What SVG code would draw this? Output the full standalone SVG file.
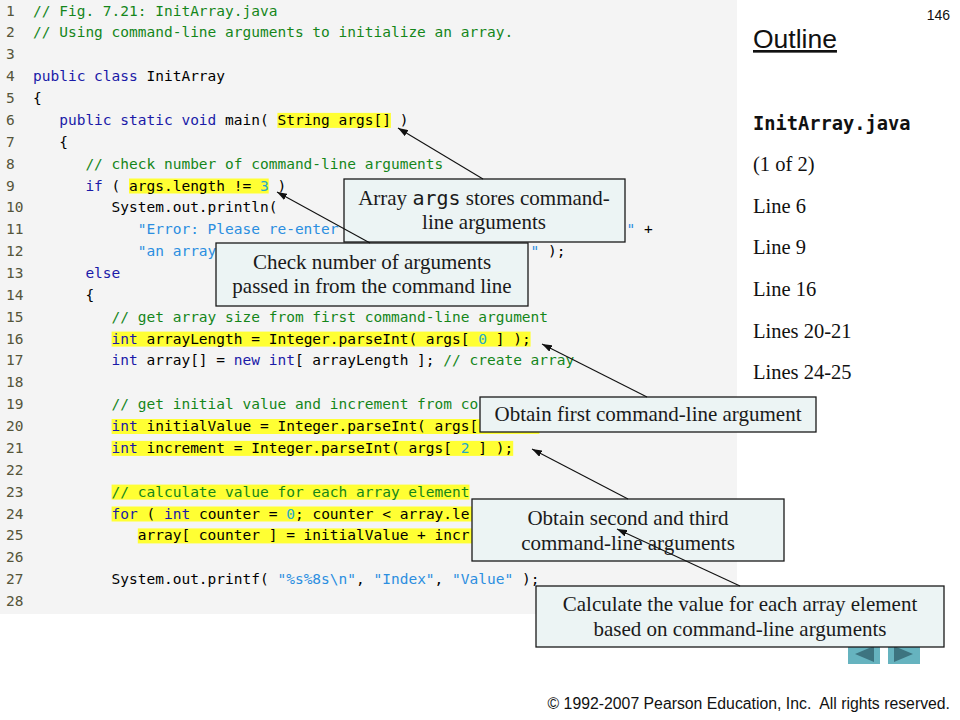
<svg xmlns="http://www.w3.org/2000/svg" width="960" height="720" viewBox="0 0 960 720">
<defs>
<style>
.code{font-family:"DejaVu Sans Mono","Liberation Mono",monospace;font-size:14.5px;fill:#000;}
.ln{font-family:"DejaVu Sans Mono","Liberation Mono",monospace;font-size:14.5px;fill:#55553a;}
.cm{fill:#14861a;}
.kw{fill:#1a1aa8;}
.st{fill:#2b8ee0;}
.nm{fill:#26a9c8;}
.hl{fill:#ffff33;}
.box{fill:#ecf4f4;stroke:#1a1a1a;stroke-width:1.3;}
.ct{font-family:"Liberation Serif","Times New Roman",serif;font-size:21px;fill:#1a1a1a;text-anchor:middle;}
.ctm{font-family:"DejaVu Sans Mono","Liberation Mono",monospace;font-size:20px;}
.ot{font-family:"Liberation Serif","Times New Roman",serif;font-size:20.5px;fill:#111;}
.sans{font-family:"Liberation Sans",Arial,sans-serif;fill:#111;}
.conn{stroke:#111;stroke-width:1.1;fill:none;marker-end:url(#ah);}
</style>
<marker id="ah" viewBox="0 0 10 7" refX="10" refY="3.5" markerWidth="10" markerHeight="7" markerUnits="userSpaceOnUse" orient="auto">
<path d="M0,0 L10,3.5 L0,7 z" fill="#111"/>
</marker>
</defs>
<rect x="0" y="0" width="960" height="720" fill="#ffffff"/>
<g id="code-listing">
<rect x="0" y="0" width="737" height="614" fill="#f4f4f4"/>
<g id="highlights">
<rect class="hl" x="277.4" y="112.9" width="113.5" height="15"/>
<rect class="hl" x="129" y="178.5" width="139.7" height="15"/>
<rect class="hl" x="111.6" y="331.6" width="419" height="15"/>
<rect class="hl" x="111.6" y="419" width="427.8" height="15"/>
<rect class="hl" x="111.6" y="440.9" width="401.6" height="15"/>
<rect class="hl" x="111.6" y="484.6" width="357.9" height="15"/>
<rect class="hl" x="111.6" y="506.5" width="366" height="15"/>
<rect class="hl" x="137.8" y="528.4" width="337" height="15"/>
</g>
<g id="line-numbers" class="ln">
<text x="6" y="15.5">1</text>
<text x="6" y="37.4">2</text>
<text x="6" y="59.2">3</text>
<text x="6" y="81.1">4</text>
<text x="6" y="103">5</text>
<text x="6" y="124.9">6</text>
<text x="6" y="146.7">7</text>
<text x="6" y="168.6">8</text>
<text x="6" y="190.5">9</text>
<text x="6" y="212.3">10</text>
<text x="6" y="234.2">11</text>
<text x="6" y="256.1">12</text>
<text x="6" y="277.9">13</text>
<text x="6" y="299.8">14</text>
<text x="6" y="321.7">15</text>
<text x="6" y="343.6">16</text>
<text x="6" y="365.4">17</text>
<text x="6" y="387.3">18</text>
<text x="6" y="409.2">19</text>
<text x="6" y="431">20</text>
<text x="6" y="452.9">21</text>
<text x="6" y="474.8">22</text>
<text x="6" y="496.6">23</text>
<text x="6" y="518.5">24</text>
<text x="6" y="540.4">25</text>
<text x="6" y="562.3">26</text>
<text x="6" y="584.1">27</text>
<text x="6" y="606">28</text>
</g>
<g id="code-lines" class="code" xml:space="preserve">
<text x="33" y="15.5" class="cm">// Fig. 7.21: InitArray.java</text>
<text x="33" y="37.4" class="cm">// Using command-line arguments to initialize an array.</text>
<text x="33" y="81.1"><tspan class="kw">public class</tspan> InitArray</text>
<text x="33" y="103">{</text>
<text x="59.19" y="124.9"><tspan class="kw">public static void</tspan> main( String args[] )</text>
<text x="59.19" y="146.7">{</text>
<text x="85.38" y="168.6" class="cm">// check number of command-line arguments</text>
<text x="85.38" y="190.5"><tspan class="kw">if</tspan> ( args.length != <tspan class="nm">3</tspan> )</text>
<text x="111.57" y="212.3">System.out.println(</text>
<text x="137.76" y="234.2" class="st">"Error: Please re-enter</text>
<text x="626.6" y="234.2"><tspan class="st">"</tspan> +</text>
<text x="137.76" y="256.1" class="st">"an array</text>
<text x="530.6" y="256.1"><tspan class="st">"</tspan> );</text>
<text x="85.38" y="277.9" class="kw">else</text>
<text x="85.38" y="299.8">{</text>
<text x="111.57" y="321.7" class="cm">// get array size from first command-line argument</text>
<text x="111.57" y="343.6"><tspan class="kw">int</tspan> arrayLength = Integer.parseInt( args[ <tspan class="nm">0</tspan> ] );</text>
<text x="111.57" y="365.4"><tspan class="kw">int</tspan> array[] = <tspan class="kw">new int</tspan>[ arrayLength ]; <tspan class="cm">// create array</tspan></text>
<text x="111.57" y="409.2" class="cm">// get initial value and increment from co</text>
<text x="111.57" y="431"><tspan class="kw">int</tspan> initialValue = Integer.parseInt( args[</text>
<text x="111.57" y="452.9"><tspan class="kw">int</tspan> increment = Integer.parseInt( args[ <tspan class="nm">2</tspan> ] );</text>
<text x="111.57" y="496.6" class="cm">// calculate value for each array element</text>
<text x="111.57" y="518.5"><tspan class="kw">for</tspan> ( <tspan class="kw">int</tspan> counter = <tspan class="nm">0</tspan>; counter &lt; array.le</text>
<text x="137.76" y="540.4">array[ counter ] = initialValue + incr</text>
<text x="111.57" y="584.1">System.out.printf( <tspan class="st">"%s%8s\n"</tspan>, <tspan class="st">"Index"</tspan>, <tspan class="st">"Value"</tspan> );</text>
</g>
</g>
<g id="outline-panel">
<text class="sans" x="950" y="20" font-size="14" text-anchor="end">146</text>
<text class="sans" x="753" y="48" font-size="26.5" text-decoration="underline">Outline</text>
<text x="753" y="130" font-family="'DejaVu Sans Mono','Liberation Mono',monospace" font-size="18.7" font-weight="bold" fill="#111">InitArray.java</text>
<text class="ot" x="753" y="171">(1 of 2)</text>
<text class="ot" x="753" y="213">Line 6</text>
<text class="ot" x="753" y="254">Line 9</text>
<text class="ot" x="753" y="296">Line 16</text>
<text class="ot" x="753" y="338">Lines 20-21</text>
<text class="ot" x="753" y="379">Lines 24-25</text>
</g>
<g id="nav-buttons">
<rect x="848" y="641" width="32" height="23" fill="#66b3bf"/>
<path d="M855,654 L874,646 L874,662 z" fill="#3d7480"/>
<rect x="888" y="641" width="32" height="23" fill="#66b3bf"/>
<path d="M913,654 L894,646 L894,662 z" fill="#3d7480"/>
</g>
<g id="callout-args">
<rect class="box" x="344" y="179" width="281" height="63"/>
<text class="ct" x="484" y="205">Array <tspan class="ctm">args</tspan> stores command-</text>
<text class="ct" x="484" y="229">line arguments</text>
</g>
<g id="callout-check">
<rect class="box" x="216" y="243" width="312" height="63"/>
<text class="ct" x="372" y="269">Check number of arguments</text>
<text class="ct" x="372" y="293">passed in from the command line</text>
</g>
<g id="callout-first">
<rect class="box" x="480" y="397" width="336" height="35"/>
<text class="ct" x="648" y="421">Obtain first command-line argument</text>
</g>
<g id="callout-second">
<rect class="box" x="472" y="499" width="312" height="62"/>
<text class="ct" x="628" y="525">Obtain second and third</text>
<text class="ct" x="628" y="550">command-line arguments</text>
</g>
<g id="callout-calc">
<rect class="box" x="536" y="586" width="408" height="61"/>
<text class="ct" x="740" y="611">Calculate the value for each array element</text>
<text class="ct" x="740" y="636">based on command-line arguments</text>
</g>
<g id="connectors">
<line class="conn" x1="483" y1="179" x2="398" y2="128"/>
<line class="conn" x1="370" y1="243" x2="277" y2="192"/>
<line class="conn" x1="647" y1="397" x2="542" y2="344"/>
<line class="conn" x1="628" y1="499" x2="532" y2="449"/>
<line class="conn" x1="740" y1="586" x2="617" y2="529"/>
</g>
<text class="sans" x="950" y="709" font-size="15.8" text-anchor="end" xml:space="preserve">© 1992-2007 Pearson Education, Inc.  All rights reserved.</text>
</svg>
